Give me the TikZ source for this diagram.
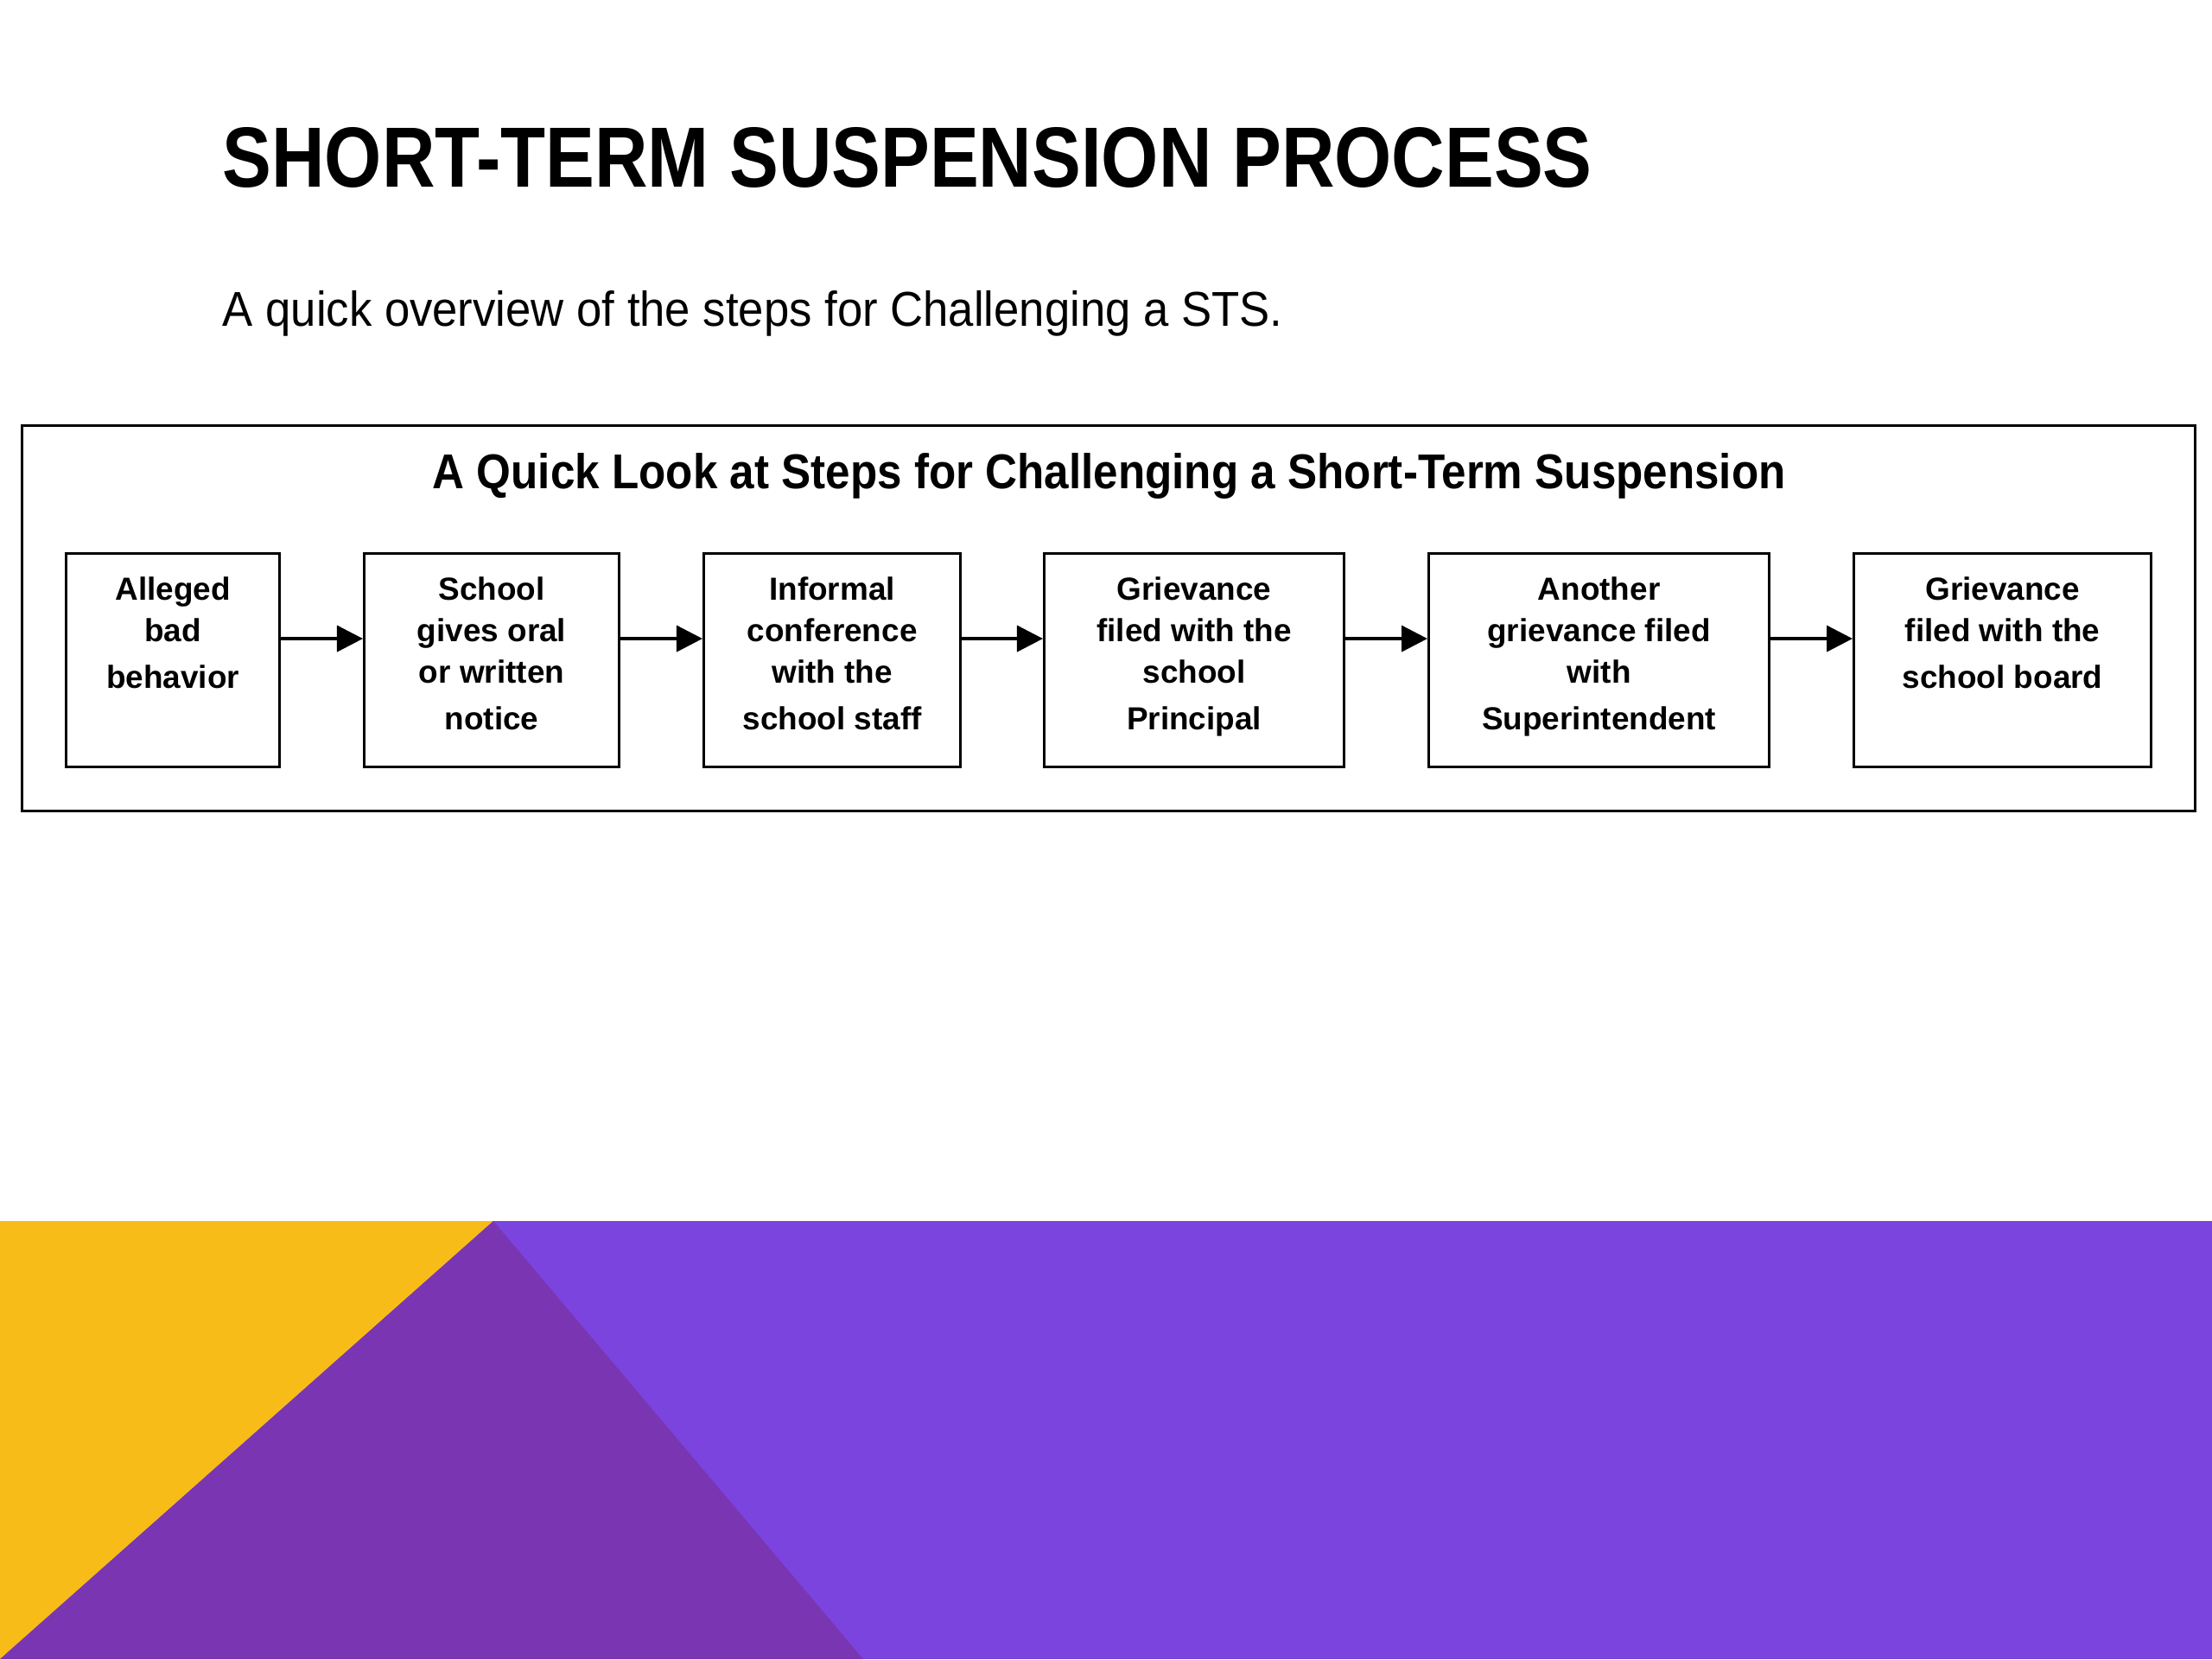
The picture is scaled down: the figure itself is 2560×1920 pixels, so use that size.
\documentclass[tikz,border=0pt]{standalone}
\usepackage{fontspec}
\setmainfont{Liberation Sans}
\usetikzlibrary{arrows.meta}
\definecolor{gold}{RGB}{247,188,24}
\definecolor{darkpurple}{RGB}{122,54,178}
\definecolor{lightpurple}{RGB}{123,68,222}
\begin{document}
\begin{tikzpicture}[x=0.01cm,y=-0.01cm,
  frame/.style={draw=black, line width=0.85pt, inner sep=0pt, anchor=north west},
  stepbox/.style={draw=black, line width=0.85pt, minimum width=#1, minimum height=2.47cm, inner sep=0pt, anchor=north west},
  steptext/.style={anchor=north, align=center, inner sep=0pt, text=black,
    font=\fontsize{10.5}{13.6}\selectfont\bfseries},
  flow/.style={line width=1.1pt, -{Triangle[length=0.3cm,width=0.3cm]}},
  plain/.style={inner sep=0pt, anchor=base west, text=black}]
% page
\useasboundingbox (0,0) rectangle (2560,1920);
\fill[white] (0,0) rectangle (2560,1920);
% decorative band
\fill[lightpurple] (0,1413) rectangle (2560,1920);
\fill[gold] (0,1413) -- (571,1413) -- (0,1920) -- cycle;
\fill[darkpurple] (571,1413) -- (999,1920) -- (0,1920) -- cycle;
% title and subtitle
\node[plain] (title) at (257,216) {\resizebox{15.84cm}{0.69cm}{\bfseries SHORT-TERM SUSPENSION PROCESS}};
\node[plain] (subtitle) at (257,377) {\resizebox{12.26cm}{0.41cm}{A quick overview of the steps for Challenging a STS.}};
% outer frame
\node[frame, minimum width=25.14cm, minimum height=4.46cm] (outer) at (24,491) {};
\node[plain] (heading) at (500,565) {\resizebox{15.65cm}{0.41cm}{\bfseries A Quick Look at Steps for Challenging a Short-Term Suspension}};
% step boxes
\node[stepbox=2.47cm] (b1) at (75,639) {};
\node[stepbox=2.95cm] (b2) at (420,639) {};
\node[stepbox=2.97cm] (b3) at (813,639) {};
\node[stepbox=3.47cm] (b4) at (1207,639) {};
\node[stepbox=3.94cm] (b5) at (1652,639) {};
\node[stepbox=3.44cm] (b6) at (2144,639) {};
% texts
\node[steptext] (t1) at ([yshift=-0.28cm]b1.north) {Alleged\\bad\\[1.8pt]behavior};
\node[steptext] (t2) at ([yshift=-0.28cm]b2.north) {School\\gives oral\\or written\\[1.8pt]notice};
\node[steptext] (t3) at ([yshift=-0.28cm]b3.north) {Informal\\conference\\with the\\[1.8pt]school staff};
\node[steptext] (t4) at ([yshift=-0.28cm]b4.north) {Grievance\\filed with the\\school\\[1.8pt]Principal};
\node[steptext] (t5) at ([yshift=-0.28cm]b5.north) {Another\\grievance filed\\with\\[1.8pt]Superintendent};
\node[steptext] (t6) at ([yshift=-0.28cm]b6.north) {Grievance\\filed with the\\[1.8pt]school board};
% arrows
\draw[flow] ([yshift=0.25cm]b1.east) -- ([yshift=0.25cm]b2.west);
\draw[flow] ([yshift=0.25cm]b2.east) -- ([yshift=0.25cm]b3.west);
\draw[flow] ([yshift=0.25cm]b3.east) -- ([yshift=0.25cm]b4.west);
\draw[flow] ([yshift=0.25cm]b4.east) -- ([yshift=0.25cm]b5.west);
\draw[flow] ([yshift=0.25cm]b5.east) -- ([yshift=0.25cm]b6.west);
\end{tikzpicture}
\end{document}
